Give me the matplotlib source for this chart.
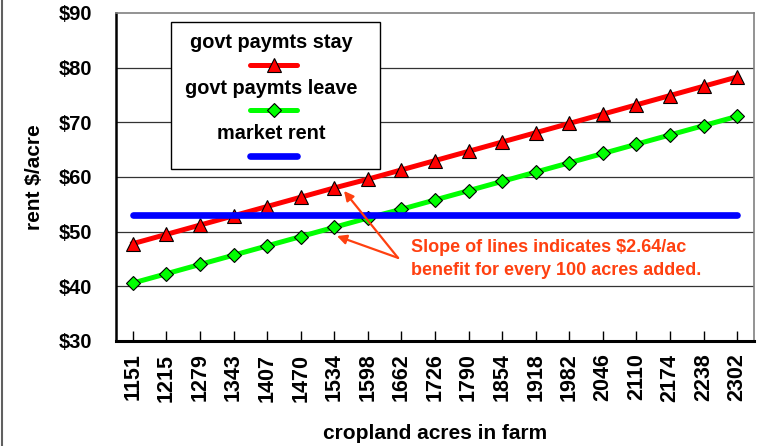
import matplotlib
matplotlib.use('Agg')
import matplotlib.pyplot as plt
from matplotlib.lines import Line2D
from matplotlib.patches import Rectangle

plt.rcParams['font.family'] = ['Liberation Sans', 'DejaVu Sans']
plt.rcParams['font.weight'] = 'bold'

# data
acres = ['1151', '1215', '1279', '1343', '1407', '1470', '1534', '1598', '1662', '1726',
         '1790', '1854', '1918', '1982', '2046', '2110', '2174', '2238', '2302']
paymts_stay = [47.8, 49.5, 51.2, 52.9, 54.6, 56.3, 58.0, 59.6, 61.3, 63.0,
               64.7, 66.4, 68.1, 69.8, 71.5, 73.2, 74.9, 76.6, 78.3]
paymts_leave = [40.6, 42.3, 44.0, 45.7, 47.4, 49.1, 50.8, 52.5, 54.1, 55.8,
                57.5, 59.2, 60.9, 62.6, 64.3, 66.0, 67.7, 69.4, 71.1]
market_rent = [53.0] * len(acres)

x = list(range(len(acres)))
orange = '#FF4010'

fig = plt.figure(figsize=(7.58, 4.46), dpi=100)
ax = fig.add_axes([116/758, 105/446, 638/758, 328/446])

ax.plot(x, paymts_stay, color='#FF0000', lw=3.6, marker='^', ms=10.5,
        mfc='#FF0000', mec='black', mew=0.8, zorder=3)
ax.plot(x, paymts_leave, color='#00FF00', lw=3.6, marker='D', ms=6.8,
        mfc='#00FF00', mec='black', mew=0.8, zorder=3)
ax.plot(x, market_rent, color='#0000FF', lw=4.8, solid_capstyle='round', zorder=4)

ax.set_xlim(-0.5, len(acres) - 0.5)
ax.set_ylim(30, 90)
ax.set_yticks(range(30, 91, 10))
ax.set_yticklabels([f'${v}' for v in range(30, 91, 10)])
ax.set_xticks(x)
ax.set_xticklabels(acres, rotation=90)
ax.tick_params(axis='y', length=0, pad=17, labelsize=14.5)
ax.tick_params(axis='x', direction='in', length=7, width=1, pad=9, labelsize=15.5)
for v in range(40, 81, 10):
    ax.axhline(v, color='#333333', lw=0.9, zorder=1)

ax.spines['left'].set_linewidth(1.8)
ax.spines['bottom'].set_linewidth(2.2)
for s in ['top', 'right']:
    ax.spines[s].set_color('#808080')
    ax.spines[s].set_linewidth(1.2)

ax.set_xlabel('cropland acres in farm', fontsize=15, fontweight='bold', labelpad=16)
ax.set_ylabel('rent $/acre', fontsize=15, fontweight='bold', labelpad=11)

# legend drawn by hand: label above each handle
ax.add_patch(Rectangle((0.086, 0.524), 0.328, 0.449, transform=ax.transAxes,
                       facecolor='white', edgecolor='black', lw=1, zorder=5))
entries = [('govt paymts stay', '#FF0000', '^', 10.5, 0.909, 0.841),
           ('govt paymts leave', '#00FF00', 'D', 6.8, 0.771, 0.704),
           ('market rent', '#0000FF', None, 0, 0.634, 0.564)]
for label, col, mk, ms, ty, hy in entries:
    ax.text(0.243, ty, label, transform=ax.transAxes, ha='center', va='center',
            fontsize=14.3, fontweight='bold', zorder=6)
    ax.add_line(Line2D([0.210, 0.284], [hy, hy], transform=ax.transAxes, color=col,
                       lw=4.8 if mk is None else 3.6, solid_capstyle='round', zorder=6))
    if mk:
        ax.add_line(Line2D([0.247], [hy], transform=ax.transAxes, marker=mk, ms=ms,
                           mfc=col, mec='black', mew=0.8, zorder=7))

# annotation with two arrows
for target in [(6.29, paymts_stay[6] - 0.55), (6.08, paymts_leave[6] - 1.6)]:
    ax.annotate('', xy=target, xytext=(7.9, 45.2),
                arrowprops=dict(arrowstyle='-|>', color=orange, lw=1.6,
                                mutation_scale=14, shrinkA=0, shrinkB=0), zorder=6)
ax.text(8.28, 48.7, 'Slope of lines indicates $2.64/ac\nbenefit for every 100 acres added.',
        color=orange, fontsize=13, fontweight='bold', ha='left', va='top',
        linespacing=1.5, zorder=6)

fig.add_artist(Line2D([0.003, 0.003], [0, 1], transform=fig.transFigure,
                      color='#606060', lw=1.5))

fig.savefig('out.png', dpi=100)
